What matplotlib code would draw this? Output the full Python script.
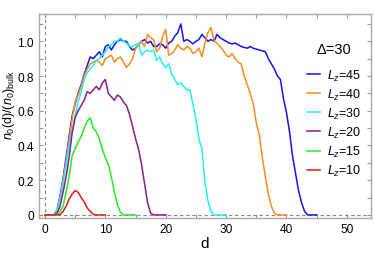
import numpy as np
import matplotlib.pyplot as plt
from matplotlib.ticker import MultipleLocator, FuncFormatter

plt.rcParams['font.family'] = ['Liberation Sans', 'DejaVu Sans']
plt.rcParams['mathtext.fontset'] = 'custom'
plt.rcParams['mathtext.rm'] = 'Liberation Sans'
plt.rcParams['mathtext.it'] = 'Liberation Sans:italic'

## density profiles, d sampled every 0.5
n_10 = [0, 0, 0, 0, 0, 0.002, 0.02, 0.05, 0.09, 0.12, 0.14, 0.13, 0.10, 0.075, 0.04,
        0.02, 0.003, 0, 0, 0, 0]
n_15 = [0, 0, 0, 0, 0.003, 0.02, 0.05, 0.13, 0.22, 0.34, 0.38, 0.42, 0.45, 0.50, 0.54,
        0.56, 0.50, 0.48, 0.44, 0.38, 0.33, 0.29, 0.22, 0.13, 0.06, 0.015, 0, 0, 0, 0, 0]
n_20 = [0, 0, 0, 0, 0.01, 0.05, 0.13, 0.22, 0.33, 0.47, 0.56, 0.60, 0.63, 0.66, 0.71,
        0.70, 0.72, 0.74, 0.72, 0.76, 0.78, 0.70, 0.68, 0.66, 0.69, 0.68, 0.65, 0.63,
        0.58, 0.51, 0.44, 0.38, 0.29, 0.18, 0.07, 0.01, 0, 0, 0, 0, 0]
n_30 = [0, 0, 0, 0, 0.03, 0.09, 0.18, 0.29, 0.40, 0.49, 0.57, 0.65, 0.71, 0.78, 0.82,
        0.84, 0.86, 0.89, 0.90, 0.92, 0.94, 0.97, 0.98, 1.0, 1.0, 1.02, 1.0, 0.99, 0.97,
        0.97, 0.98, 0.99, 0.92, 0.94, 0.95, 0.94, 0.95, 0.89, 0.91, 0.87, 0.85, 0.87,
        0.81, 0.78, 0.75, 0.76, 0.74, 0.72, 0.72, 0.64, 0.55, 0.44, 0.38, 0.19, 0.08,
        0.02, 0, 0, 0, 0, 0]
n_40 = [0, 0, 0, 0, 0.03, 0.10, 0.20, 0.31, 0.43, 0.55, 0.65, 0.69, 0.74, 0.80, 0.84,
        0.87, 0.88, 0.89, 0.88, 0.86, 0.90, 0.91, 0.92, 0.88, 0.90, 0.91, 0.88, 0.85,
        0.87, 0.90, 0.96, 0.98, 1.0, 0.97, 1.04, 1.02, 1.01, 0.94, 0.96, 1.03, 1.07,
        0.92, 0.93, 0.95, 0.98, 0.96, 0.95, 0.97, 0.96, 0.93, 0.94, 0.96, 0.91, 0.99,
        1.05, 1.08, 1.0, 0.99, 0.97, 0.95, 0.92, 0.91, 0.93, 0.90, 0.88, 0.87, 0.80,
        0.75, 0.70, 0.64, 0.53, 0.46, 0.33, 0.22, 0.12, 0.05, 0.01, 0, 0, 0, 0]
n_45 = [0, 0, 0, 0, 0.03, 0.11, 0.21, 0.33, 0.45, 0.57, 0.64, 0.70, 0.75, 0.81, 0.86,
        0.91, 0.90, 0.92, 0.94, 0.91, 0.97, 0.98, 0.95, 0.98, 1.0, 1.01, 1.0, 1.0, 0.97,
        0.95, 0.96, 0.98, 1.0, 1.01, 0.99, 1.0, 0.97, 0.97, 0.985, 0.98, 0.96, 0.99,
        1.0, 1.03, 1.05, 1.10, 1.0, 1.01, 1.0, 0.985, 1.0, 1.01, 1.04, 1.02, 1.0, 1.01,
        1.0, 1.04, 1.02, 1.01, 1.0, 0.99, 0.985, 0.99, 0.98, 0.97, 0.965, 0.96, 0.97,
        0.96, 0.955, 0.95, 0.945, 0.94, 0.90, 0.87, 0.84, 0.80, 0.78, 0.67, 0.59, 0.48,
        0.34, 0.24, 0.14, 0.07, 0.02, 0, 0, 0, 0]

profiles = [(n_45, 45, '#1414f0'), (n_40, 40, '#ff8a1e'), (n_30, 30, '#22f0f0'),
            (n_20, 20, '#8c1a8c'), (n_15, 15, '#22ee22'), (n_10, 10, '#f01414')]

fig = plt.figure(figsize=(3.74, 2.55), dpi=100)
ax = fig.add_axes([0.104, 0.141, 0.888, 0.8])

ax.axvline(0, color='#888888', lw=0.8, ls=(0, (3, 2.5)))
ax.axhline(0, color='#888888', lw=0.8, ls=(0, (3, 2.5)))

for n, lz, c in profiles:
    d = np.arange(len(n)) * 0.5
    ax.plot(d, n, color=c, lw=1.1, label='$L_z$=%d' % lz)

ax.set_xlim(-1, 54)
ax.set_ylim(-0.018, 1.157)
ax.xaxis.set_major_locator(MultipleLocator(10))
ax.xaxis.set_minor_locator(MultipleLocator(5))
ax.yaxis.set_major_locator(MultipleLocator(0.2))
ax.yaxis.set_minor_locator(MultipleLocator(0.1))
ax.yaxis.set_major_formatter(FuncFormatter(lambda v, p: '0' if abs(v) < 1e-9 else '%.1f' % v))
ax.tick_params(which='both', direction='in', top=True, right=True, length=3,
               width=0.8, color='#999999', labelsize=8.6, pad=3.6)
for s in ax.spines.values():
    s.set_color('#a8a8a8')
    s.set_linewidth(1)

ax.set_xlabel('d', fontsize=11, labelpad=1)
ax.set_ylabel(r'$n_0$(d)/($n_0$)$_{\rm bulk}$', fontsize=9)
ax.yaxis.set_label_coords(-0.066, 0.56)

leg = ax.legend(title='Δ=30', loc='upper right', bbox_to_anchor=(1.0, 0.91),
                frameon=False, fontsize=9, title_fontsize=10.5, handlelength=1.1,
                handletextpad=0.5, labelspacing=0.32, borderpad=0.3)
leg._legend_box.align = 'center'
leg._legend_box.sep = 8

fig.savefig('out.png', dpi=100)
